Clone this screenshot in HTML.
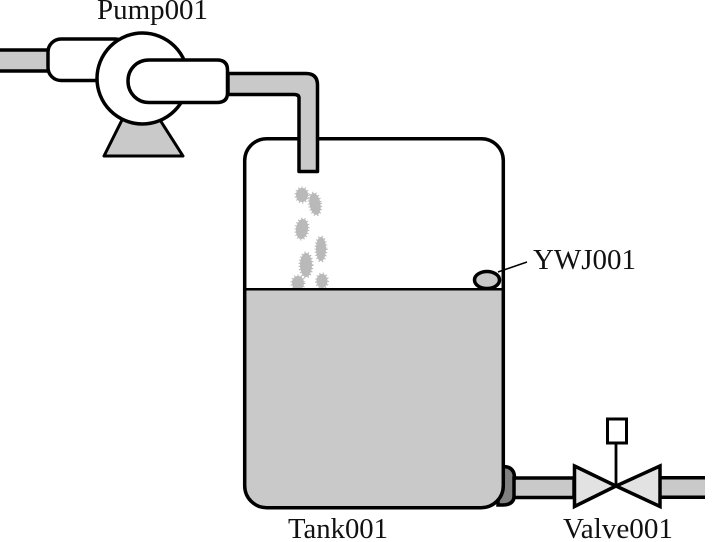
<!DOCTYPE html>
<html>
<head>
<meta charset="utf-8">
<style>
html,body{margin:0;padding:0;background:#fff;width:716px;height:542px;overflow:hidden}
svg{display:block}
text{font-family:"Liberation Serif",serif;font-size:28px;fill:#111}
</style>
</head>
<body>
<svg width="716" height="542" viewBox="0 0 716 542" xmlns="http://www.w3.org/2000/svg">
<defs><clipPath id="above"><rect x="246" y="140" width="256" height="148"/></clipPath></defs>
<rect width="716" height="542" fill="#fff"/>

<!-- inlet pipe -->
<rect x="-6" y="50" width="56" height="21" fill="#c9c9c9" stroke="#000" stroke-width="3.500"/>

<!-- tank nozzle -->
<path d="M498 466.500H503Q514.500 466.500 514.500 478V494Q514.500 505 503 505H498Z" fill="#808080" stroke="#000" stroke-width="3.500"/>

<!-- tank -->
<path d="M246 290H502V486Q502 507 481 507H267Q246 507 246 486Z" fill="#c9c9c9"/>
<rect x="244.700" y="138.700" width="258.600" height="369" rx="22" fill="none" stroke="#000" stroke-width="3.500"/>
<rect x="245" y="288" width="258" height="2.500" fill="#000"/>

<!-- droplets -->
<g fill="#b9b9b9" stroke="#b9b9b9" stroke-width="3" stroke-dasharray="1 2" clip-path="url(#above)">
<ellipse cx="302" cy="195" rx="6" ry="7"/>
<ellipse cx="315" cy="204" rx="5.500" ry="11" transform="rotate(-10 315 204)"/>
<ellipse cx="302" cy="229" rx="6" ry="10" transform="rotate(8 302 229)"/>
<ellipse cx="321" cy="249" rx="5" ry="12"/>
<ellipse cx="306" cy="265" rx="6" ry="12"/>
<ellipse cx="298" cy="283" rx="6" ry="7"/>
<ellipse cx="322" cy="281" rx="5.500" ry="7"/>
</g>

<!-- level sensor -->
<ellipse cx="487" cy="280" rx="12.500" ry="8.500" fill="#c9c9c9" stroke="#000" stroke-width="3.500"/>
<line x1="498" y1="272" x2="527" y2="262" stroke="#000" stroke-width="1.500"/>

<!-- pump -->
<path d="M228 73.500H306Q317.500 73.500 317.500 85V171.500H299V98Q299 94.500 294 94.500H228Z" fill="#c9c9c9" stroke="#000" stroke-width="3.500" stroke-linejoin="round"/>
<path d="M122 120L104 156H183L160 120Z" fill="#c9c9c9" stroke="#000" stroke-width="3" stroke-linejoin="round"/>
<rect x="48" y="39" width="80" height="41.500" rx="13" fill="#fff" stroke="#000" stroke-width="3.500"/>
<circle cx="142.500" cy="78.500" r="45.500" fill="#fff" stroke="#000" stroke-width="3.500"/>
<path d="M149 60H217Q227.500 60 227.500 70V93Q227.500 102.500 217 102.500H149C137 102.500 128 93 128 81S137 60 149 60Z" fill="#fff" stroke="#000" stroke-width="3.500"/>

<!-- outlet pipes -->
<rect x="514" y="478" width="60" height="19.500" fill="#c9c9c9" stroke="#000" stroke-width="3.500"/>
<rect x="660" y="477" width="45" height="20" fill="#c9c9c9"/>
<rect x="660" y="476" width="45" height="3.500" fill="#000"/>
<rect x="660" y="495.500" width="45" height="3.500" fill="#000"/>

<!-- valve -->
<path d="M574.500 466L616 486L574.500 506.500Z" fill="#e2e2e2" stroke="#000" stroke-width="3.500" stroke-linejoin="miter"/>
<path d="M660 466L616 486L660 506.500Z" fill="#e2e2e2" stroke="#000" stroke-width="3.500" stroke-linejoin="miter"/>
<line x1="616" y1="443" x2="616" y2="486" stroke="#000" stroke-width="2.800"/>
<rect x="607.500" y="419" width="19" height="24" fill="#fff" stroke="#000" stroke-width="3"/>

<!-- labels -->
<text x="97" y="19" textLength="111" lengthAdjust="spacingAndGlyphs">Pump001</text>
<text x="533" y="269" textLength="103" lengthAdjust="spacingAndGlyphs">YWJ001</text>
<text x="288" y="538" textLength="100" lengthAdjust="spacingAndGlyphs">Tank001</text>
<text x="563" y="538" textLength="110" lengthAdjust="spacingAndGlyphs">Valve001</text>
</svg>
</body>
</html>
